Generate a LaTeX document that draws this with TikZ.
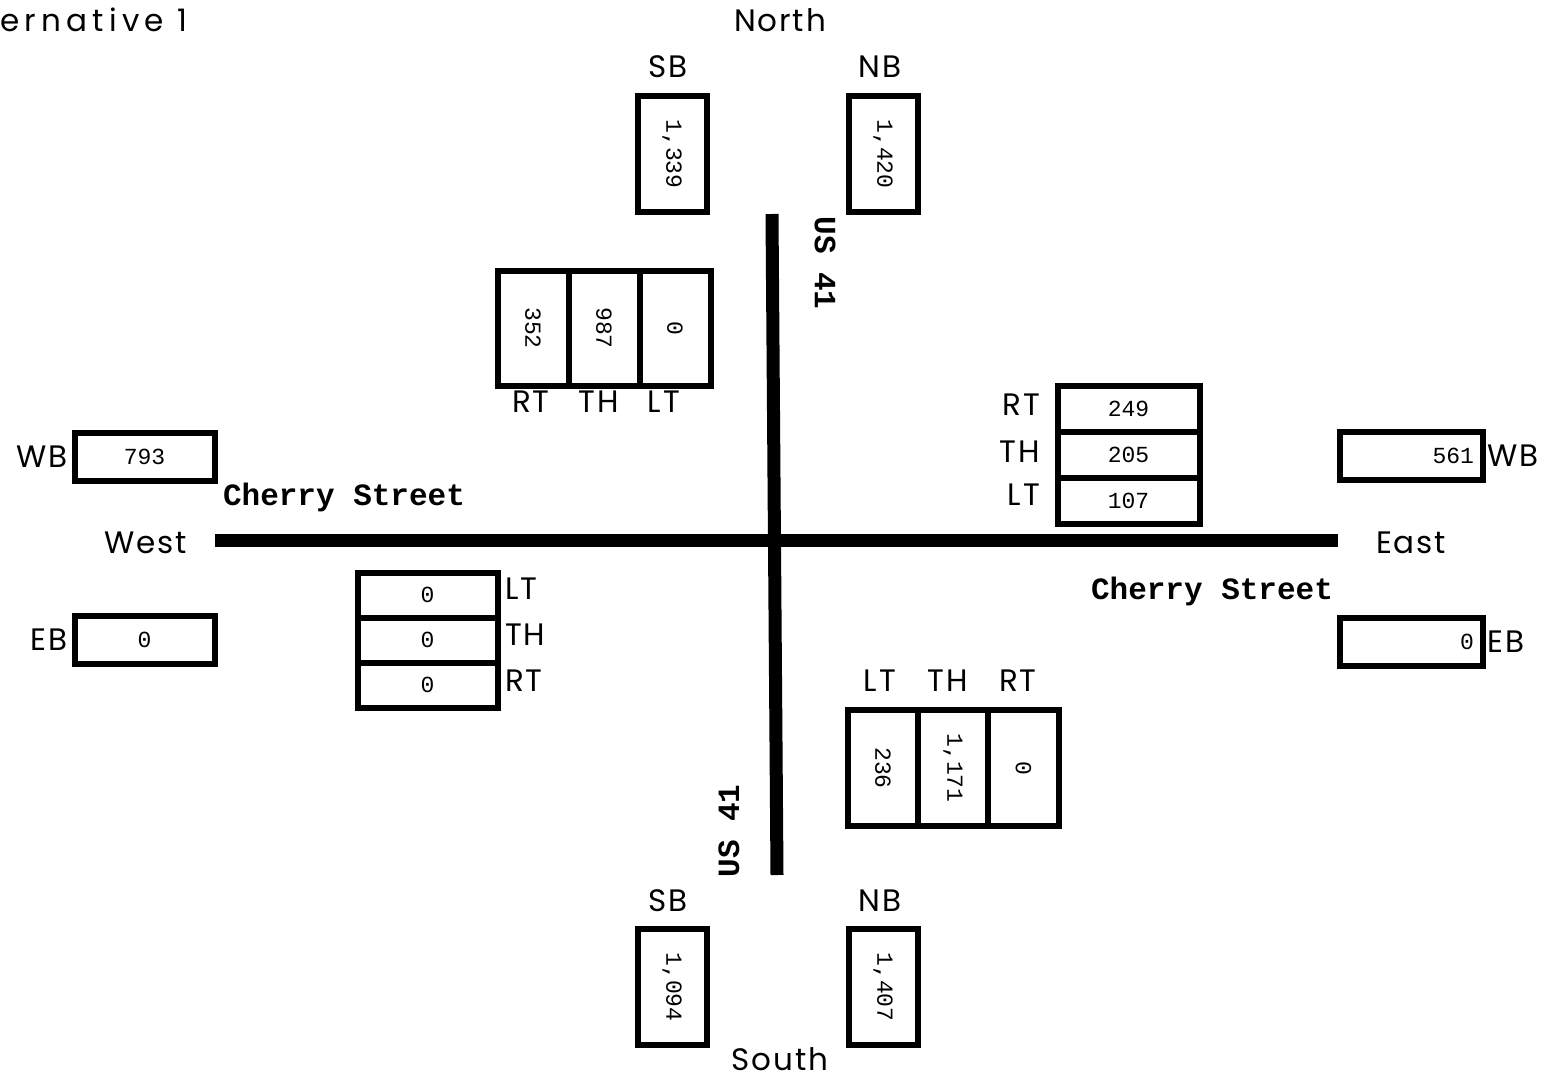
\documentclass[tikz,border=0pt]{standalone}
\usepackage{fontspec}
\setmainfont{Poppins}[LetterSpace=6]
\newfontfamily\numfont{Liberation Mono}
\usepackage{tikz}
\usetikzlibrary{positioning}

\begin{document}
\begin{tikzpicture}[x=1pt,y=-1pt,
        lbl/.style={font=\fontsize{31}{31}\selectfont, inner sep=0pt},
        cnt/.style={draw, line width=6pt, inner sep=0pt, outer sep=0pt,
          font=\numfont\fontsize{23}{23}\selectfont},
        hbox/.style={cnt, minimum width=142pt, minimum height=48pt},
        sbox/.style={cnt, minimum width=141pt, minimum height=46pt},
        vbox/.style={cnt, rotate=-90, minimum width=116pt, minimum height=70pt},
        street/.style={font=\numfont\bfseries\fontsize{31}{31}\selectfont, inner sep=0pt},
        road/.style={line width=13pt}]
        \useasboundingbox (0,0) rectangle (1548,1079);
        \node[lbl, anchor=west] (title) at (0,20) {\addfontfeatures{LetterSpace=17}ernative 1};
        % approaches
        \node[lbl] (north) at (780,20) {North};
        \node[lbl] (south) at (780,1059) {South};
        \node[lbl] (west) at (146,543) {West};
        \node[lbl] (east) at (1411,543) {East};
        % roads
        \coordinate (rn) at (772,214);
        \coordinate (rs) at (777,875);
        \coordinate (rw) at (215,540);
        \coordinate (re) at (1338,540);
        \draw[road] (rn) -- (rs);
        \draw[road] (rw) -- (re);
        \node[street] (cw) at (344,497) {Cherry Street};
        \node[street] (ce) at (1212,591) {Cherry Street};
        \node[street, rotate=-90] (usn) at (825,263) {US 41};
        \node[street, rotate=90] (uss) at (729,831) {US 41};
        % north leg
        \node[vbox, minimum height=69pt] (sbn) at (672,154) {1,339};
        \node[vbox, minimum height=69pt] (nbn) at (883,154) {1,420};
        \node[lbl] (sbnl) at (668,67) {SB};
        \node[lbl] (nbnl) at (880,67) {NB};
        \node[vbox, minimum height=71pt, minimum width=115pt] (srt) at (533,328) {352};
        \node[vbox, minimum height=71pt, minimum width=115pt] (sth) at (604,328) {987};
        \node[vbox, minimum height=71pt, minimum width=115pt] (slt) at (675,328) {0};
        \node[lbl] (srtl) at (531,402) {RT};
        \node[lbl] (sthl) at (599,402) {TH};
        \node[lbl] (sltl) at (664,402) {LT};
        % south leg
        \node[vbox, minimum height=69pt] (sbs) at (672,987) {1,094};
        \node[vbox, minimum height=69pt] (nbs) at (883,987) {1,407};
        \node[lbl] (sbsl) at (668,901) {SB};
        \node[lbl] (nbsl) at (880,901) {NB};
        \node[vbox, minimum height=70.5pt] (nlt) at (883,768) {236};
        \node[vbox, minimum height=70.5pt] (nth) at (953,768) {1,171};
        \node[vbox, minimum height=70.5pt] (nrt) at (1023.5,768) {0};
        \node[lbl] (nltl) at (880,681) {LT};
        \node[lbl] (nthl) at (948,681) {TH};
        \node[lbl] (nrtl) at (1018,681) {RT};
        % east leg
        \node[sbox, minimum width=142pt] (wrt) at (1128.5,409) {249};
        \node[sbox, minimum width=142pt] (wth) at (1128.5,455) {205};
        \node[sbox, minimum width=142pt] (wlt) at (1128.5,501) {107};
        \node[lbl, anchor=east] (wrtl) at (1040,405) {RT};
        \node[lbl, anchor=east] (wthl) at (1040,452) {TH};
        \node[lbl, anchor=east] (wltl) at (1040,495) {LT};
        \node[hbox, minimum width=143pt, text width=126pt, align=right] (wbe) at (1411,456) {561};
        \node[hbox, minimum width=143pt, text width=126pt, align=right] (ebe) at (1411,642) {0};
        \node[lbl, right=5pt of wbe] (wbel) {WB};
        \node[lbl, right=5pt of ebe] (ebel) {EB};
        % west leg
        \node[sbox, minimum width=140pt, minimum height=45pt] (elt) at (427.5,595) {0};
        \node[sbox, minimum width=140pt, minimum height=45pt] (eth) at (427.5,640) {0};
        \node[sbox, minimum width=140pt, minimum height=45pt] (ert) at (427.5,685) {0};
        \node[lbl, anchor=west] (eltl) at (505,589) {LT};
        \node[lbl, anchor=west] (ethl) at (505,635) {TH};
        \node[lbl, anchor=west] (ertl) at (505,681) {RT};
        \node[hbox, minimum width=140pt] (wbw) at (144.5,457) {793};
        \node[hbox, minimum width=140pt] (ebw) at (144.5,640) {0};
        \node[lbl, left=7pt of wbw] (wbwl) {WB};
        \node[lbl, left=7pt of ebw] (ebwl) {EB};
\end{tikzpicture}
\end{document}
